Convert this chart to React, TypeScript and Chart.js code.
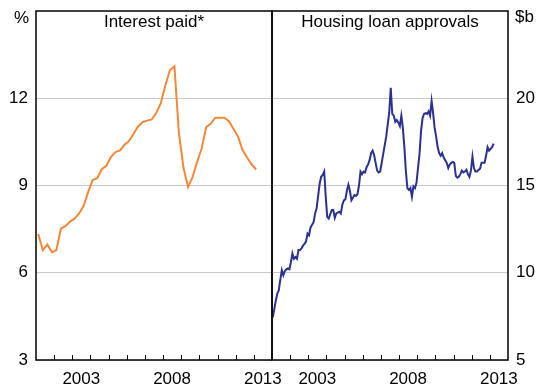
import React, { useEffect, useRef } from "react";
import { Chart, registerables } from "chart.js";

Chart.register(...registerables);

// ---- data ----
const yearStart = 2001;
const yearEnd = 2014;
const yearLabels = [2003, 2008, 2013];

// Interest paid (% of disposable income), quarterly from Q1 2001
const interestPaid = [
  7.33, 6.78, 6.97, 6.71, 6.78, 7.52, 7.6, 7.76, 7.86, 8.04, 8.3, 8.78,
  9.2, 9.25, 9.56, 9.68, 9.98, 10.15, 10.21, 10.4, 10.53, 10.78, 11.03, 11.18,
  11.23, 11.27, 11.49, 11.83, 12.44, 12.96, 13.1, 10.78, 9.61, 8.95, 9.29, 9.81,
  10.27, 11.01, 11.12, 11.33, 11.33, 11.33, 11.21, 10.95, 10.69, 10.23, 9.96, 9.73,
  9.55,
];

// Housing loan approvals ($b), monthly from Jan 2001
const loanApprovals = [
  7.45, 7.9, 8.4, 8.8, 9.0, 9.6, 10.15, 9.86, 10.1, 10.2, 10.25, 10.2,
  10.6, 11.1, 10.8, 10.9, 10.8, 11.3, 11.3, 11.4, 11.55, 11.65, 11.8, 12.25,
  12.15, 12.6, 12.75, 12.9, 13.4, 13.7, 14.4, 15.1, 15.5, 15.6, 15.8, 14.4,
  13.2, 13.1, 13.35, 13.6, 13.6, 13.15, 13.4, 13.45, 13.5, 13.4, 13.9, 14.15,
  14.2, 14.7, 15.05, 14.7, 14.15, 14.3, 14.45, 14.4, 14.5, 15.0, 15.8, 15.65,
  15.8, 15.75, 16.05, 16.2, 16.45, 16.85, 17.0, 16.75, 16.3, 15.85, 15.75, 15.8,
  16.3, 16.8, 17.3, 17.8, 18.5, 19.2, 20.6, 19.1, 19.0, 18.65, 18.75, 18.6,
  18.4, 19.0, 18.3, 17.2, 15.8, 14.85, 14.75, 14.85, 14.35, 14.95, 14.85, 15.15,
  16.0, 16.8, 18.1, 18.85, 19.1, 19.15, 19.1, 19.25, 19.0, 19.85, 19.15, 18.3,
  17.8, 17.2, 16.85, 16.7, 16.85, 16.6, 16.45, 16.3, 16.0, 16.2, 16.3, 16.35,
  16.3, 15.55, 15.45, 15.5, 15.65, 15.85, 15.75, 15.8, 15.9, 15.65, 15.5, 15.85,
  16.65, 16.0, 15.8, 15.8, 15.9, 15.95, 16.3, 16.3, 16.3, 16.7, 17.2, 17.0,
  17.1, 17.2, 17.4,
];

const leftTitle = "Interest paid*";
const rightTitle = "Housing loan approvals";
const leftUnit = "%";
const rightUnit = "$b";
const leftAxis = { min: 3, max: 15, step: 3 };
const rightAxis = { min: 5, max: 25, step: 5 };

const FONT = 'Arial, "Liberation Sans", sans-serif';
const W = 546;
const H = 386;

const framePlugin = {
  id: "frame",
  afterDraw(chart: any, _args: any, opts: any) {
    const { ctx, chartArea: a } = chart;
    const xs = chart.scales.x;
    ctx.save();
    ctx.strokeStyle = "#000";
    ctx.lineWidth = 1;
    xs.ticks.forEach((t: any) => {
      if (t.value > xs.min && t.value < xs.max) {
        const px = Math.round(xs.getPixelForValue(t.value)) + 0.5;
        ctx.beginPath();
        ctx.moveTo(px, a.bottom);
        ctx.lineTo(px, a.bottom - 5);
        ctx.stroke();
      }
    });
    ctx.lineWidth = 1.5;
    ctx.strokeRect(a.left, a.top, a.right - a.left, a.bottom - a.top);
    ctx.fillStyle = "#000";
    ctx.font = `17px ${FONT}`;
    ctx.textBaseline = "alphabetic";
    ctx.textAlign = "center";
    ctx.fillText(opts.title, (a.left + a.right) / 2, a.top + 16);
    if (opts.side === "left") {
      ctx.textAlign = "right";
      ctx.fillText(opts.unit, a.left - 7, a.top + 12);
    } else {
      ctx.textAlign = "left";
      ctx.fillText(opts.unit, a.right + 7, a.top + 11);
    }
    ctx.restore();
  },
};

function makeConfig(side: "left" | "right", points: any[], color: string, axis: any, title: string, unit: string) {
  const yAxisWidth = side === "left" ? 36 : 38;
  return {
    type: "line",
    data: {
      datasets: [
        {
          data: points,
          borderColor: color,
          borderWidth: 2,
          pointRadius: 0,
          tension: 0,
          fill: false,
        },
      ],
    },
    options: {
      responsive: false,
      animation: false,
      layout: {
        padding: side === "left"
          ? { left: 0, right: W - 272, top: 11, bottom: 0 }
          : { left: 272, right: 0, top: 11, bottom: 0 },
      },
      plugins: {
        legend: { display: false },
        tooltip: { enabled: false },
        frame: { title, unit, side },
      },
      scales: {
        x: {
          type: "linear",
          min: yearStart,
          max: yearEnd,
          afterFit: (s: any) => {
            s.height = 26;
            s.paddingLeft = 0;
            s.paddingRight = 0;
          },
          grid: { display: false, drawTicks: false },
          border: { display: false },
          ticks: {
            stepSize: 1,
            autoSkip: false,
            maxRotation: 0,
            padding: 9,
            labelOffset: 9,
            color: "#000",
            font: { size: 17, family: FONT },
            callback: (v: any) => (yearLabels.includes(Number(v)) ? String(v) : ""),
          },
        },
        y: {
          position: side,
          min: axis.min,
          max: axis.max,
          afterFit: (s: any) => {
            s.width = yAxisWidth;
            s.paddingTop = 0;
            s.paddingBottom = 0;
          },
          afterBuildTicks: (s: any) => { s.ticks = s.ticks.filter((t: any) => t.value < axis.max); },
          grid: { color: "#c8c8c8", lineWidth: 1, drawTicks: false },
          border: { display: false },
          ticks: {
            stepSize: axis.step,
            padding: 8,
            color: "#000",
            font: { size: 17, family: FONT },
          },
        },
      },
    },
    plugins: [framePlugin],
  } as any;
}

export default function App() {
  const leftRef = useRef<HTMLCanvasElement>(null);
  const rightRef = useRef<HTMLCanvasElement>(null);

  useEffect(() => {
    const leftPts = interestPaid.map((v, i) => ({ x: yearStart + (i + 0.5) / 4, y: v }));
    const rightPts = loanApprovals.map((v, i) => ({ x: yearStart + (i + 0.5) / 12, y: v }));
    const c1 = new Chart(leftRef.current!, makeConfig("left", leftPts, "#f5873a", leftAxis, leftTitle, leftUnit));
    const c2 = new Chart(rightRef.current!, makeConfig("right", rightPts, "#2b3190", rightAxis, rightTitle, rightUnit));
    return () => {
      c1.destroy();
      c2.destroy();
    };
  }, []);

  const cs: React.CSSProperties = { position: "absolute", left: 0, top: 0, width: W, height: H };
  return (
    <div style={{ position: "absolute", left: 0, top: 0, width: W, height: H, background: "#fff" }}>
      <canvas ref={leftRef} width={W} height={H} style={cs} />
      <canvas ref={rightRef} width={W} height={H} style={cs} />
    </div>
  );
}
